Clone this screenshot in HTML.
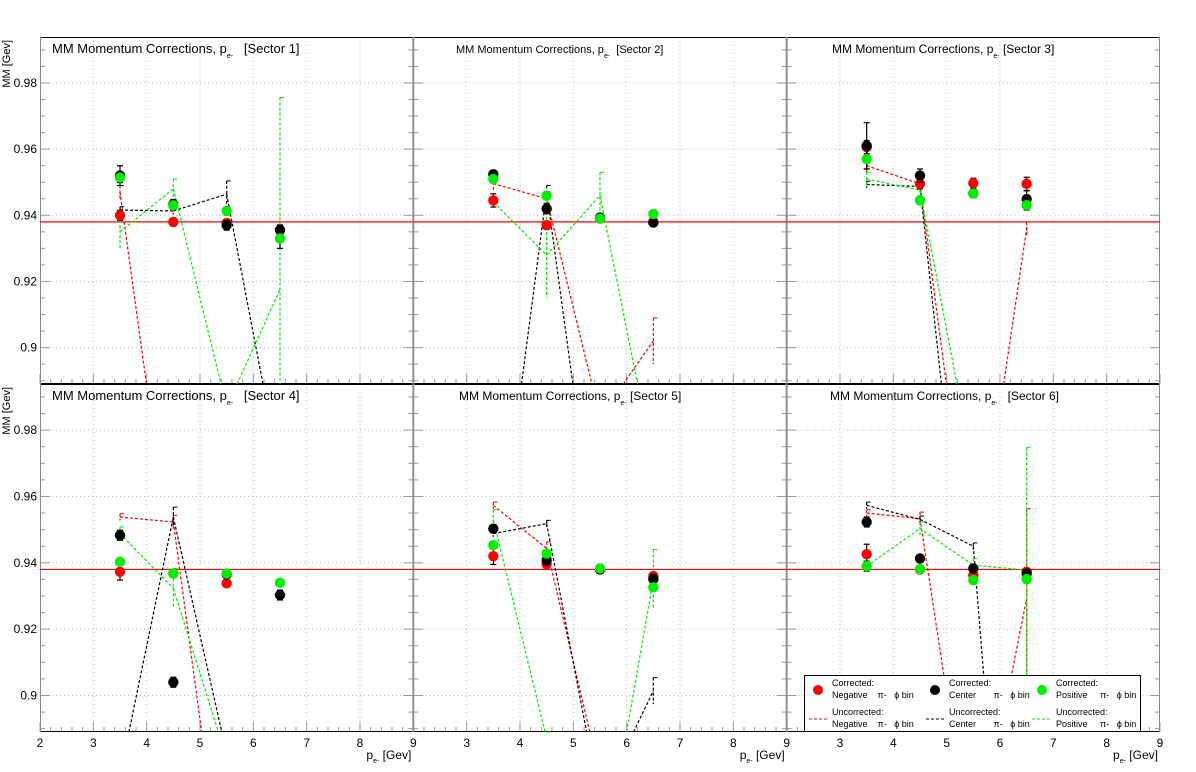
<!DOCTYPE html>
<html><head><meta charset="utf-8">
<style>
html,body{margin:0;padding:0;background:#fff;width:1196px;height:772px;overflow:hidden;}
svg{display:block;font-family:"Liberation Sans",sans-serif;}
</style></head>
<body>
<svg id="chart" width="1196" height="772" viewBox="0 0 1196 772" xmlns="http://www.w3.org/2000/svg">
<rect x="0" y="0" width="1196" height="772" fill="#fff"/>
<g id="panels"></g>
<g id="legend">
  <rect x="804.5" y="675.5" width="336" height="56" fill="#fff" stroke="#000" stroke-width="1"/>
  <g>
    <circle cx="818" cy="690" r="5" fill="#ff0000"/>
    <text x="832" y="686" font-size="9">Corrected:</text>
    <text x="832" y="698" font-size="9">Negative&#160;&#160;&#160;&#160;π-&#160;&#160;&#160;ϕ bin</text>
  </g>
  <g>
    <circle cx="935" cy="690" r="5" fill="#000"/>
    <text x="949" y="686" font-size="9">Corrected:</text>
    <text x="949" y="698" font-size="9">Center&#160;&#160;&#160;&#160;&#160;&#160;&#160;π-&#160;&#160;&#160;ϕ bin</text>
  </g>
  <g>
    <circle cx="1042" cy="690" r="5" fill="#00ee00"/>
    <text x="1056" y="686" font-size="9">Corrected:</text>
    <text x="1056" y="698" font-size="9">Positive&#160;&#160;&#160;&#160;&#160;π-&#160;&#160;&#160;ϕ bin</text>
  </g>
  <g>
    <line x1="809" y1="719" x2="828" y2="719" stroke="#ff0000" stroke-dasharray="3,2"/>
    <text x="832" y="715" font-size="9">Uncorrected:</text>
    <text x="832" y="727" font-size="9">Negative&#160;&#160;&#160;&#160;π-&#160;&#160;&#160;ϕ bin</text>
  </g>
  <g>
    <line x1="926" y1="719" x2="945" y2="719" stroke="#000" stroke-dasharray="3,2"/>
    <text x="949" y="715" font-size="9">Uncorrected:</text>
    <text x="949" y="727" font-size="9">Center&#160;&#160;&#160;&#160;&#160;&#160;&#160;π-&#160;&#160;&#160;ϕ bin</text>
  </g>
  <g>
    <line x1="1032" y1="719" x2="1052" y2="719" stroke="#00ee00" stroke-dasharray="3,2"/>
    <text x="1056" y="715" font-size="9">Uncorrected:</text>
    <text x="1056" y="727" font-size="9">Positive&#160;&#160;&#160;&#160;&#160;π-&#160;&#160;&#160;ϕ bin</text>
  </g>
</g>
</svg>
<script>
// ---- data ----
const sectors = ["Sector 1","Sector 2","Sector 3","Sector 4","Sector 5","Sector 6"];
const xBins = [3.5, 4.5, 5.5, 6.5];
const referenceMM = 0.938;
const yTicks = [0.9, 0.92, 0.94, 0.96, 0.98];
const yTickLabels = ["0.9","0.92","0.94","0.96","0.98"];
const xTicks = [2,3,4,5,6,7,8,9];
// corrected
const corrNeg = [
 [0.940,0.938,0.9377,0.9356],
 [0.9445,0.937,0.939,0.938],
 [0.9606,0.9495,0.9497,0.9495],
 [0.9373,0.9368,0.9338,0.9303],
 [0.942,0.9396,0.938,0.936],
 [0.9426,0.938,0.9363,0.9373]];
const corrCen = [
 [0.952,0.9433,0.937,0.9355],
 [0.9524,0.942,0.9393,0.9378],
 [0.961,0.952,0.9466,0.9449],
 [0.9483,0.904,0.9365,0.9303],
 [0.9503,0.9408,0.938,0.9351],
 [0.9523,0.9413,0.9383,0.9368]];
const corrPos = [
 [0.9514,0.943,0.9413,0.933],
 [0.951,0.9459,0.939,0.9404],
 [0.957,0.9445,0.9466,0.9431],
 [0.9403,0.9368,0.9368,0.934],
 [0.9453,0.9428,0.9383,0.9326],
 [0.939,0.9381,0.9348,0.9351]];
const errNeg = [
 [0.0015,0.0010,0.0010,0.0015],[0.0020,0.0012,0.0010,0.0010],[0.0020,0.0015,0.0015,0.0020],
 [0.0025,0.0012,0.0010,0.0010],[0.0025,0.0012,0.0010,0.0010],[0.0030,0.0010,0.0012,0.0010]];
const errCen = [
 [0.0030,0.0015,0.0015,0.0015],[0.0012,0.0015,0.0010,0.0010],[0.0070,0.0020,0.0012,0.0025],
 [0.0015,0.0015,0.0010,0.0015],[0.0012,0.0015,0.0010,0.0015],[0.0015,0.0012,0.0012,0.0012]];
const errPos = [
 [0.0015,0.0012,0.0012,0.0030],[0.0012,0.0012,0.0010,0.0010],[0.0030,0.0012,0.0012,0.0015],
 [0.0010,0.0010,0.0010,0.0010],[0.0010,0.0010,0.0010,0.0010],[0.0015,0.0010,0.0012,0.0012]];
// uncorrected
const uncNeg = [
 [0.947,0.83,0.80,0.80],
 [0.9496,0.945,0.879,0.902],
 [0.955,0.9495,0.827,0.936],
 [0.9538,0.9523,0.833,0.80],
 [0.9573,0.9443,0.876,0.80],
 [0.955,0.9533,0.848,0.9293]];
const uncCen = [
 [0.9416,0.9413,0.9464,0.862],
 [0.824,0.947,0.829,0.80],
 [0.9493,0.9487,0.80,0.80],
 [0.876,0.9538,0.8825,0.80],
 [0.9488,0.9518,0.868,0.9014],
 [0.9573,0.9531,0.945,0.745]];
const uncPos = [
 [0.935,0.948,0.882,0.9176],
 [0.944,0.928,0.946,0.865],
 [0.951,0.9476,0.863,0.80],
 [0.9488,0.9323,0.881,0.80],
 [0.953,0.887,0.843,0.935],
 [0.939,0.9503,0.9393,0.9378]];
const uncErrNeg = [
 [0.002,0.001,0.001,0.001],[0.002,0.002,0.001,0.007],[0.002,0.001,0.001,0.002],
 [0.001,0.002,0.001,0.001],[0.001,0.002,0.001,0.001],[0.001,0.002,0.001,0.027]];
const uncErrCen = [
 [0.001,0.001,0.004,0.001],[0.001,0.002,0.001,0.001],[0.001,0.001,0.001,0.001],
 [0.001,0.003,0.001,0.001],[0.001,0.001,0.001,0.004],[0.001,0.001,0.001,0.001]];
const uncErrPos = [
 [0.005,0.003,0.001,0.058],[0.001,0.013,0.007,0.001],[0.002,0.002,0.001,0.001],
 [0.002,0.006,0.001,0.001],[0.003,0.002,0.001,0.009],[0.001,0.002,0.002,0.037]];

// ---- layout ----
const NS = "http://www.w3.org/2000/svg";
const colW = 373.33, colLeft0 = 40;
const rowTop = [37, 384], rowH = [347, 348];
const yMin = 0.889, yMax = 0.9939, xMin = 2, xMax = 9;
const colors = {neg:"#ff0000", cen:"#000000", pos:"#00ee00"};
const titleStyles = [
 {x:52, fs:13, gap:"\u00a0\u00a0"},{x:456, fs:11, gap:"\u00a0"},{x:832, fs:12, gap:""},
 {x:52, fs:13, gap:"\u00a0\u00a0"},{x:459, fs:12, gap:""},{x:830, fs:12, gap:"\u00a0\u00a0"}];

function mk(tag, attrs, parent){
  const e = document.createElementNS(NS, tag);
  for (const k in attrs) e.setAttribute(k, attrs[k]);
  if (parent) parent.appendChild(e);
  return e;
}
function xScale(c, x){ return colLeft0 + c*colW + (x - xMin)/(xMax - xMin)*colW; }
function yScale(r, v){ return rowTop[r] + (yMax - v)/(yMax - yMin)*rowH[r]; }
function clampV(v){ return Math.max(yMin, Math.min(yMax, v)); }

const root = document.getElementById("panels");

sectors.forEach((name, i) => {
  const c = i % 3, r = Math.floor(i/3);
  const L = colLeft0 + c*colW, T = rowTop[r], H = rowH[r];
  const g = mk("g", {}, root);
  
  

  const grid = mk("g", {}, g);
  
  
  for (let x = 3; x <= 8; x++) {
    mk("line", {x1: xScale(c,x), x2: xScale(c,x), y1: T, y2: T+H, stroke:"#bbb", "stroke-dasharray":"1,3"}, grid);
  }
  yTicks.forEach(v => {
    mk("line", {x1: L, x2: L+colW, y1: yScale(r,v), y2: yScale(r,v), stroke:"#bbb", "stroke-dasharray":"1,3"}, grid);
  });
  for (let v = 0.89; v < yMax; v += 0.005) {
    const major = Math.abs((v*100) % 2) < 0.01 || Math.abs((v*100)%2 - 2) < 0.01;
    const len = major ? 10 : 5;
    mk("line", {x1: L, x2: L+len, y1: yScale(r,v), y2: yScale(r,v), stroke:"#999"}, grid);
    mk("line", {x1: L+colW-len, x2: L+colW, y1: yScale(r,v), y2: yScale(r,v), stroke:"#999"}, grid);
  }
  for (let x = 2; x <= 9.001; x += 0.2) {
    const major = Math.abs(x - Math.round(x)) < 0.01;
    const len = major ? 10 : 5;
    mk("line", {x1: xScale(c,x), x2: xScale(c,x), y1: T+H-len, y2: T+H, stroke:"#999"}, grid);
  }
  const fr = mk("g", {}, g);
  
  
  mk("line", {x1: L, x2: L+colW, y1: T+0.5, y2: T+0.5, stroke:"#000"}, fr);
  mk("line", {x1: L, x2: L+colW, y1: T+H-0.5, y2: T+H-0.5, stroke:"#000"}, fr);
  mk("line", {x1: L+0.5, x2: L+0.5, y1: T, y2: T+H, stroke:"#888"}, fr);
  mk("line", {x1: L+colW-0.5, x2: L+colW-0.5, y1: T, y2: T+H, stroke:"#888"}, fr);

  const plot = mk("g", {}, g);
  const ref = mk("line", {x1: L, x2: L+colW, y1: yScale(r,referenceMM), y2: yScale(r,referenceMM), stroke:"#ff0000", "stroke-width":1.2}, plot);
  
  

  [["neg", uncNeg, uncErrNeg], ["cen", uncCen, uncErrCen], ["pos", uncPos, uncErrPos]].forEach(([k, arr, err]) => {
    const sg = mk("g", {}, plot);
    
    
    for (let j = 0; j < xBins.length - 1; j++) {
      let x1 = xBins[j], v1 = arr[i][j], x2 = xBins[j+1], v2 = arr[i][j+1];
      if (v1 < yMin && v2 < yMin) continue;
      if (v1 < yMin) { x1 = x1 + (yMin - v1)/(v2 - v1)*(x2 - x1); v1 = yMin; }
      else if (v2 < yMin) { x2 = x1 + (yMin - v1)/(v2 - v1)*(x2 - x1); v2 = yMin; }
      const seg = mk("line", {x1: xScale(c,x1), y1: yScale(r,v1), x2: xScale(c,x2), y2: yScale(r,v2), stroke: colors[k], "stroke-width":1.2, "stroke-dasharray":"3,2"}, sg);
      
      
    }
    xBins.forEach((x, j) => {
      const hi = arr[i][j] + err[i][j], lo = arr[i][j] - err[i][j];
      if (hi < yMin) return;
      const X = xScale(c,x);
      const eb = mk("line", {x1: X, x2: X, y1: yScale(r, clampV(hi)), y2: yScale(r, clampV(lo)), stroke: colors[k], "stroke-width":1.2, "stroke-dasharray":"3,2"}, plot);
      
      
      mk("line", {x1: X, x2: X+4, y1: yScale(r, clampV(hi)), y2: yScale(r, clampV(hi)), stroke: colors[k]}, plot);
    });
  });

  [["neg", corrNeg, errNeg], ["cen", corrCen, errCen], ["pos", corrPos, errPos]].forEach(([k, arr, err]) => {
    xBins.forEach((x, j) => {
      if (arr[i][j] < yMin) return;
      const X = xScale(c,x), Y = yScale(r, arr[i][j]);
      const y1 = yScale(r, arr[i][j]+err[i][j]), y2 = yScale(r, arr[i][j]-err[i][j]);
      mk("line", {x1: X, x2: X, y1: y1, y2: y2, stroke:"#000", "stroke-width":1.2}, plot);
      mk("line", {x1: X-3, x2: X+3, y1: y1, y2: y1, stroke:"#000", "stroke-width":1.2}, plot);
      mk("line", {x1: X-3, x2: X+3, y1: y2, y2: y2, stroke:"#000", "stroke-width":1.2}, plot);
      const m = mk("circle", {cx: X, cy: Y, r: 5.2, fill: colors[k]}, plot);
      
      
    });
  });

  const ts = titleStyles[i];
  const t = mk("text", {x: ts.x, y: T + 16, "font-size": ts.fs, fill:"#000"}, g);
  
  
  t.appendChild(document.createTextNode("MM Momentum Corrections, p"));
  const sub = mk("tspan", {"font-size": 7, dy: 5}, t);
  sub.textContent = "e-";
  const rest = mk("tspan", {dy: -5}, t);
  rest.textContent = ts.gap + "\u00a0[" + name + "]";

  if (c === 0) {
    yTicks.forEach((v, k) => {
      const tl = mk("text", {x: 37, y: yScale(r,v)+4, "font-size": 12, "text-anchor":"end"}, g);
      
      
      tl.textContent = yTickLabels[k];
    });
    const yt = mk("text", {x: 0, y: 0, "font-size": 11, "text-anchor":"end", transform: "translate(10," + (T+3) + ") rotate(-90)"}, g);
    
    
    yt.textContent = "MM [Gev]";
  }
  if (r === 1) {
    xTicks.forEach(x => {
      if (c > 0 && x === 2) return;
      const xl = mk("text", {x: xScale(c,x), y: 747, "font-size": 12, "text-anchor":"middle"}, g);
      
      
      xl.textContent = String(x);
    });
    const xt = mk("text", {x: L + colW - 2, y: 759, "font-size": 12, "text-anchor":"end"}, g);
    
    
    xt.appendChild(document.createTextNode("p"));
    const s2 = mk("tspan", {"font-size": 7, dy: 4}, xt); s2.textContent = "e-";
    const r2 = mk("tspan", {dy: -4}, xt); r2.textContent = "\u00a0[Gev]";
  }
});
document.getElementById("chart").appendChild(document.getElementById("legend"));
</script>
</body></html>
